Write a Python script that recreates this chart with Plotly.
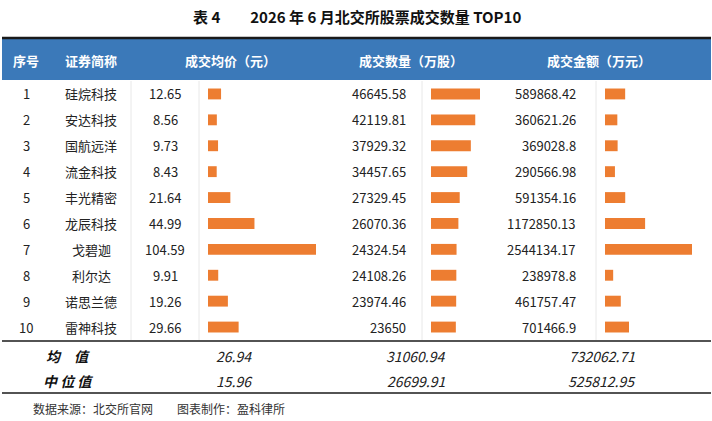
import plotly.graph_objects as go

ranks = [str(i) for i in range(1, 11)]
names = ["硅烷科技", "安达科技", "国航远洋", "流金科技", "丰光精密", "龙辰科技", "戈碧迦", "利尔达", "诺思兰德", "雷神科技"]
price = [12.65, 8.56, 9.73, 8.43, 21.64, 44.99, 104.59, 9.91, 19.26, 29.66]
volume = [46645.58, 42119.81, 37929.32, 34457.65, 27329.45, 26070.36, 24324.54, 24108.26, 23974.46, 23650]
amount = [589868.42, 360621.26, 369028.8, 290566.98, 591354.16, 1172850.13, 2544134.17, 238978.8, 461757.47, 701466.9]
amount_lbl = ["589868.42", "360621.26", "369028.8", "290566.98", "591354.16", "1172850.13", "2544134.17", "238978.8", "461757.47", "701466.9"]
volume_lbl = ["46645.58", "42119.81", "37929.32", "34457.65", "27329.45", "26070.36", "24324.54", "24108.26", "23974.46", "23650"]
headers = ["序号", "证券简称", "成交均价（元）", "成交数量（万股）", "成交金额（万元）"]
summary_names = ["均　值", "中 位 值"]
summary_price = ["26.94", "15.96"]
summary_volume = ["31060.94", "26699.91"]
summary_amount = ["732062.71", "525812.95"]

W, H = 712, 421
FONT = "Noto Sans CJK SC"
ORANGE = "#ED7D31"
px = lambda x: x / W
py = lambda y: 1 - y / H

rows = list(range(10))
fig = go.Figure()
for vals, ax in [(price, "x"), (volume, "x2"), (amount, "x3")]:
    fig.add_trace(go.Bar(x=vals, y=rows, orientation="h", xaxis=ax, yaxis="y",
                         marker=dict(color=ORANGE, line=dict(width=0)), width=0.42,
                         hoverinfo="skip"))

axcommon = dict(visible=False, showgrid=False, zeroline=False, fixedrange=True)
fig.update_layout(
    width=W, height=H, margin=dict(l=0, r=0, t=0, b=0),
    paper_bgcolor="white", plot_bgcolor="rgba(0,0,0,0)", showlegend=False,
    xaxis=dict(domain=[px(208), px(316)], range=[0, max(price)], anchor="y", **axcommon),
    xaxis2=dict(domain=[px(431), px(480)], range=[0, max(volume)], anchor="y", **axcommon),
    xaxis3=dict(domain=[px(605), px(692)], range=[0, max(amount)], anchor="y", **axcommon),
    yaxis=dict(domain=[py(340), py(81)], range=[9.5, -0.5], **axcommon),
)

shapes = []
shapes.append(dict(type="rect", xref="paper", yref="paper", x0=px(2), x1=px(711), y0=py(80), y1=py(38),
                   fillcolor="#3B79B9", line=dict(width=0), layer="below"))
shapes.append(dict(type="line", xref="paper", yref="paper", x0=px(2), x1=px(711), y0=py(38), y1=py(38),
                   line=dict(color="#1a1a1a", width=2.5)))
for yy in [341, 393]:
    shapes.append(dict(type="line", xref="paper", yref="paper", x0=px(2), x1=px(711), y0=py(yy), y1=py(yy),
                       line=dict(color="#1a1a1a", width=1.5)))
for xx in [131, 199, 422, 596]:
    shapes.append(dict(type="line", xref="paper", yref="paper", x0=px(xx), x1=px(xx), y0=py(81), y1=py(340),
                       line=dict(color="#e8e8e8", width=1)))
fig.update_layout(shapes=shapes)

ann = []
def T(x, y, s, anchor="center", size=13, color="#222", bold=False, italic=False):
    if bold:
        s = "<b>" + s + "</b>"
    if italic:
        s = "<i>" + s + "</i>"
    ann.append(dict(x=px(x), y=py(y), xref="paper", yref="paper", text=s, showarrow=False,
                    xanchor=anchor, yanchor="middle", font=dict(family=FONT, size=size, color=color)))

T(357, 16, "表 4　　2026 年 6 月北交所股票成交数量 TOP10", size=15, color="#111", bold=True)
for x, h in zip([26, 91, 230, 411, 599], headers):
    T(x, 60, h, size=13, color="white", bold=True)
for i in rows:
    y = 94 + i * 25.9
    T(26, y, ranks[i])
    T(91, y, names[i])
    T(165, y, f"{price[i]:.2f}")
    T(408, y, volume_lbl[i], anchor="right")
    T(578, y, amount_lbl[i], anchor="right")
for j, y in enumerate([356, 381]):
    T(68, y, summary_names[j], size=14, color="#111", bold=True, italic=True)
    T(234, y, summary_price[j], size=14, italic=True)
    T(416, y, summary_volume[j], size=14, italic=True)
    T(602, y, summary_amount[j], size=14, italic=True)
T(31, 408, "数据来源：北交所官网　　图表制作：盈科律所", anchor="left", size=12, color="#333")
fig.update_layout(annotations=ann)

fig.write_html("out.html", config={"displayModeBar": False},
               post_script="document.body.style.margin='0';")
